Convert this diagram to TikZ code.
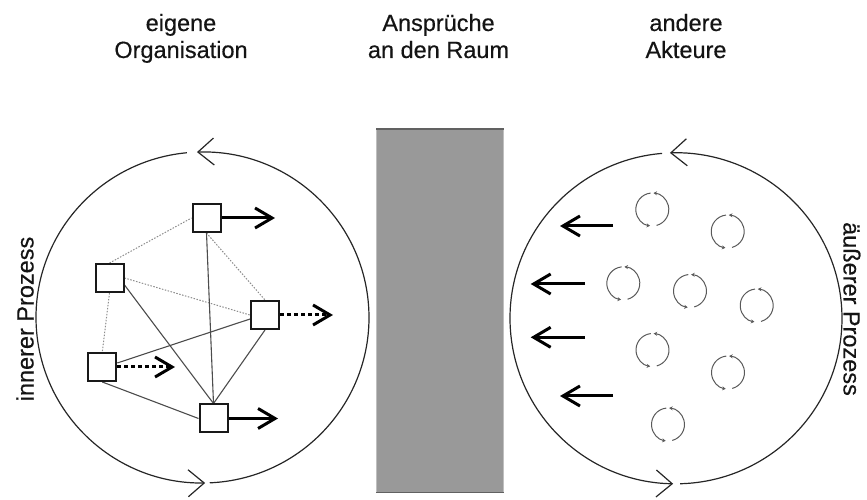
\documentclass[tikz,border=0pt]{standalone}
\usepackage{fontspec}
\setmainfont{Liberation Sans}[FakeBold=0.4]
\usetikzlibrary{arrows.meta,calc}

\tikzset{
  lbl/.style={font=\fontsize{23.5}{27}\selectfont, text=black!92, inner sep=0pt, anchor=base},
  box/.style={draw=black!90, line width=2pt, fill=white, minimum size=28pt, inner sep=0pt},
  loopline/.style={draw=black!85, line width=1.2pt},
  loophead/.style={-{Straight Barb[length=16pt,width=27pt]}},
  thinsolid/.style={draw=black!70, line width=1.1pt},
  thindot/.style={draw=black!45, line width=1pt, dash pattern=on 1.5pt off 1.5pt},
  fatarrow/.style={draw=black, line width=3pt, -{Straight Barb[length=17pt,width=20pt]}},
  fatdots/.style={fatarrow, dash pattern=on 4pt off 3pt},
  spin/.style={draw=black!65, line width=1pt, -{Stealth[length=3.5pt,width=4pt]}},
  spinicon/.pic={
    \draw[spin] (-75:16.5) arc[start angle=-75, end angle=86, radius=16.5];
    \draw[spin] (96:16.5) arc[start angle=96, end angle=262, radius=16.5];
  },
}

\begin{document}
\begin{tikzpicture}[x=1pt,y=1pt]
\useasboundingbox (0,0) rectangle (867,500);

% column headings
\node[lbl] (t1a) at (181,469) {eigene};
\node[lbl] (t1b) at (181,442) {Organisation};
\node[lbl] (t2a) at (438.5,469) {Ansprüche};
\node[lbl] (t2b) at (438.5,442) {an den Raum};
\node[lbl] (t3a) at (686,469) {andere};
\node[lbl] (t3b) at (686,442) {Akteure};

% central bar
\node[fill=black!40, draw=black!25, line width=0.6pt, minimum width=126.6pt,
      minimum height=363pt, inner sep=0pt] (raum) at (440,189.2) {};
\draw[black!62, line width=1.6pt] (raum.north west) -- (raum.north east);
\draw[black!62, line width=1.6pt] (raum.south west) -- (raum.south east);

% inner cycle
\coordinate (LC) at (202.5,182.5);
\draw[loopline, loophead] ($(LC)+(272.5:166.5 and 165.5)$)
  arc[start angle=272.5, end angle=451.9, x radius=166.5, y radius=165.5];
\draw[loopline, loophead] ($(LC)+(95.4:166.5 and 165.5)$)
  arc[start angle=95.4, end angle=270.9, x radius=166.5, y radius=165.5];
\node[lbl, rotate=90] (inner) at (33.5,181) {innerer Prozess};

% outer cycle
\coordinate (RC) at (676,181.7);
\draw[loopline, loophead] ($(RC)+(271.4:166 and 165.5)$)
  arc[start angle=271.4, end angle=452.1, x radius=166, y radius=165.5];
\draw[loopline, loophead] ($(RC)+(94.8:166 and 165.5)$)
  arc[start angle=94.8, end angle=269, x radius=166, y radius=165.5];
\node[lbl, rotate=-90] (outer) at (843.5,191) {äußerer Prozess};

% links inside the organisation
\node[box] (A) at (206.5,282) {};
\node[box] (B) at (109.5,222) {};
\node[box] (C) at (265,185) {};
\node[box] (D) at (102.3,133) {};
\node[box] (E) at (213.5,81.5) {};

\draw[thindot] (B.north) -- (A.west);
\draw[thindot] (A.south) -- (C.north);
\draw[thindot] (B.east) -- (C.west);
\draw[thindot] (B.south) -- (D.north);
\draw[thinsolid] (A.south) -- (E.north);
\draw[thinsolid] (B.-25) -- (E.north);
\draw[thinsolid] (C.south) -- (E.north);
\draw[thinsolid] (D.15) -- (C.195);
\draw[thinsolid] (D.south) -- (E.west);
\foreach \n in {A,B,C,D,E} \node[box] at (\n) {};

\coordinate (Aout) at (275,282);
\coordinate (Cout) at (333,185);
\coordinate (Dout) at (175,133);
\coordinate (Eout) at (278,81.5);
\draw[fatarrow] (A.east) -- (Aout);
\draw[fatdots] (C.east) -- (Cout);
\draw[fatdots] (D.east) -- (Dout);
\draw[fatarrow] (E.east) -- (Eout);

% other actors and their pressure on the space
\foreach \x/\y [count=\i] in {652.3/290.5, 727.7/268.5, 623.3/216.7, 690/209,
                             756.7/194.5, 652.5/150, 728/127.5, 668/75.5}
  \pic (s\i) at (\x,\y) {spinicon};

\coordinate (p1s) at (613,274);   \coordinate (p1e) at (560,274);
\coordinate (p2s) at (585,216);   \coordinate (p2e) at (530.7,216);
\coordinate (p3s) at (585,162.7); \coordinate (p3e) at (530.7,162.7);
\coordinate (p4s) at (613,104);   \coordinate (p4e) at (560,104);
\foreach \k in {1,2,3,4} \draw[fatarrow] (p\k s) -- (p\k e);
\end{tikzpicture}
\end{document}
